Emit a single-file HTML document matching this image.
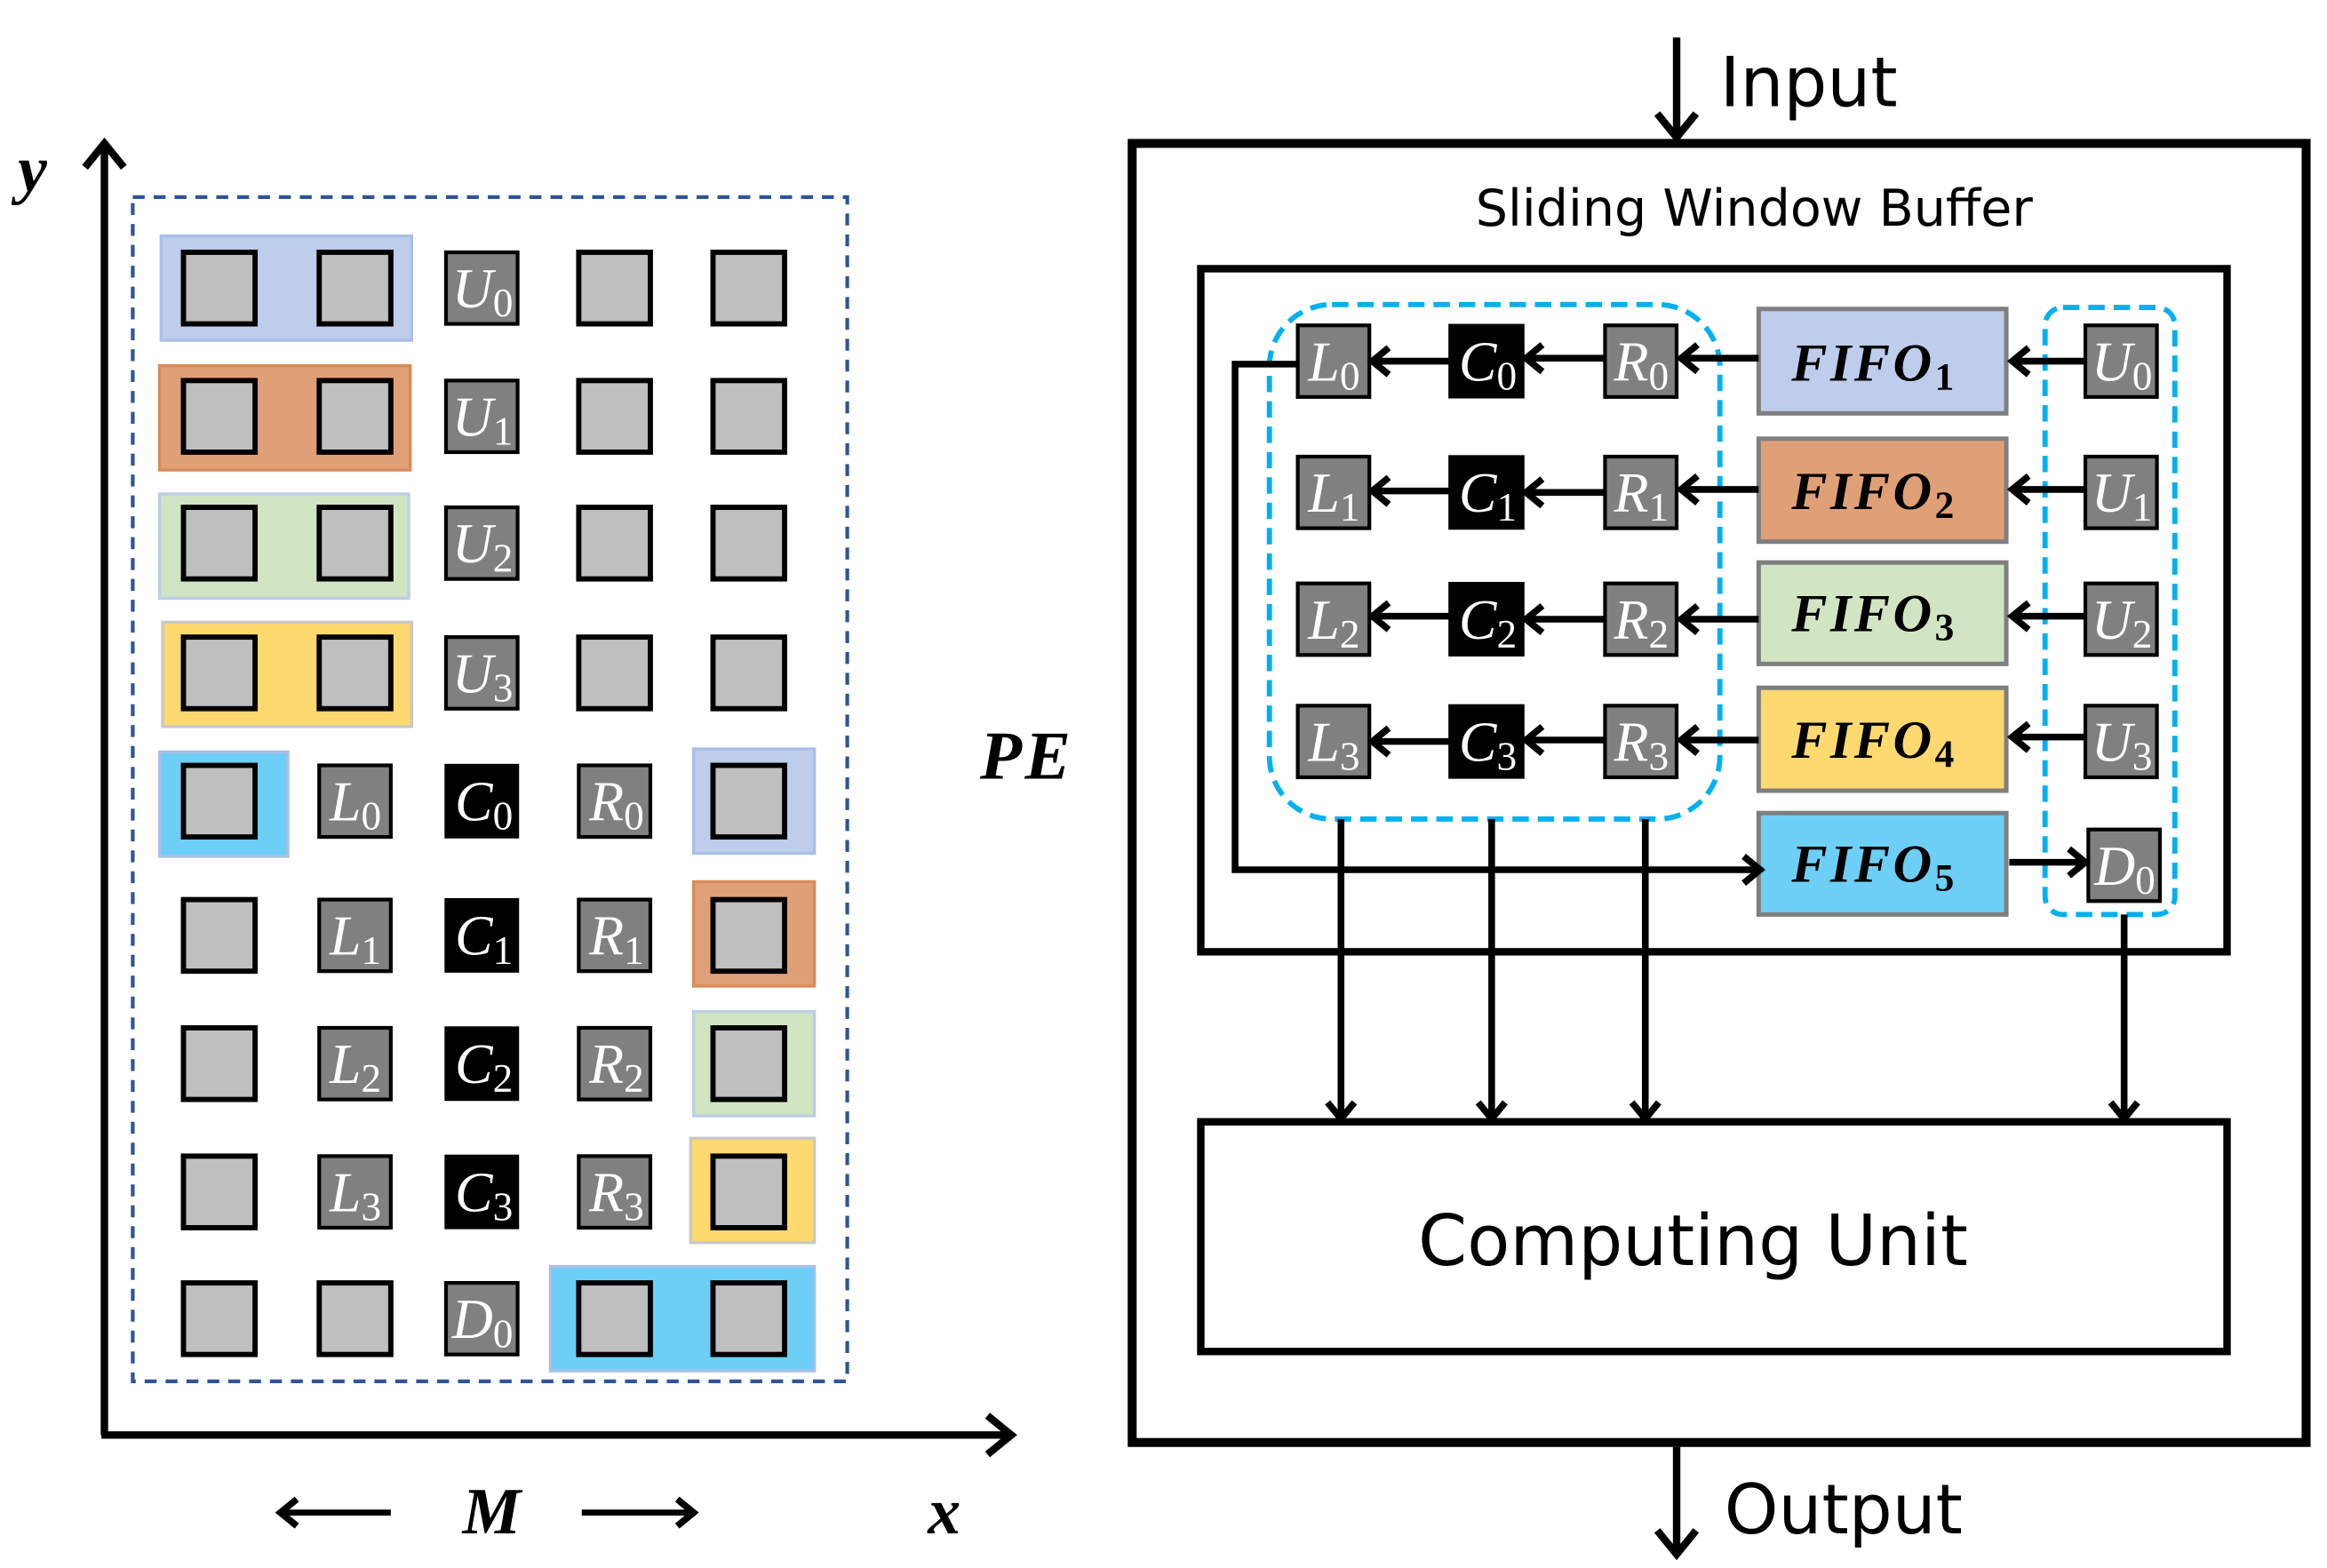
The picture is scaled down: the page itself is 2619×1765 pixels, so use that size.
<!DOCTYPE html>
<html><head><meta charset="utf-8"><style>
html,body{margin:0;padding:0;background:#fff}
svg{display:block}
.m{font-family:"Liberation Serif",serif;font-style:italic;font-size:38px;fill:#fff}
.s{font-style:normal;font-size:27px}
.sans{font-family:"DejaVu Sans","Liberation Sans",sans-serif;fill:#000}
.f{font-family:"Liberation Serif",serif;font-style:italic;font-weight:bold;font-size:36px;fill:#000;letter-spacing:2px}
.fs{font-style:normal;font-weight:bold;font-size:26px}
.g{fill:#bfbfbf;stroke:#000;stroke-width:3.5}
.d{fill:#808080;stroke:#000;stroke-width:2.5}
.b{fill:#000;stroke:#000;stroke-width:2}
</style></head><body>
<svg width="2619" height="1765" viewBox="0 0 1560 1051" xmlns="http://www.w3.org/2000/svg">
<defs>
<marker id="ah" markerUnits="userSpaceOnUse" markerWidth="24" markerHeight="24" refX="18" refY="12" orient="auto">
<path d="M7,3 L18,12 L7,21" fill="none" stroke="#000" stroke-width="4.5"/>
</marker>
<marker id="ahb" markerUnits="userSpaceOnUse" markerWidth="34" markerHeight="34" refX="26" refY="17" orient="auto">
<path d="M10,4 L26,17 L10,30" fill="none" stroke="#000" stroke-width="5"/>
</marker>
</defs>

<!-- LEFT -->
<line x1="70" y1="962" x2="70" y2="96" stroke="#000" stroke-width="5" marker-end="url(#ahb)"/>
<line x1="68" y1="962" x2="678" y2="962" stroke="#000" stroke-width="5" marker-end="url(#ahb)"/>
<text x="12" y="128" class="f" style="font-size:44px">y</text>
<rect x="89" y="132" width="479" height="794" fill="none" stroke="#2f5597" stroke-width="2.5" stroke-dasharray="8,6"/>

<rect x="108" y="158" width="168" height="70" fill="#bdcdeb" stroke="#aabfe6" stroke-width="2"/>
<rect x="107" y="245" width="168" height="70" fill="#e0a077" stroke="#d98a58" stroke-width="2"/>
<rect x="107" y="331" width="167" height="70" fill="#d2e5c3" stroke="#bccde6" stroke-width="2"/>
<rect x="109" y="417" width="167" height="70" fill="#fed96f" stroke="#c8c8c8" stroke-width="2"/>
<rect x="107" y="504" width="86" height="70" fill="#6dcff6" stroke="#aabfe6" stroke-width="2"/>
<rect x="465" y="502" width="81" height="70" fill="#bdcdeb" stroke="#aabfe6" stroke-width="2"/>
<rect x="465" y="591" width="81" height="70" fill="#e0a077" stroke="#d98a58" stroke-width="2"/>
<rect x="465" y="678" width="81" height="70" fill="#d2e5c3" stroke="#bccde6" stroke-width="2"/>
<rect x="463" y="763" width="83" height="70" fill="#fed96f" stroke="#c8c8c8" stroke-width="2"/>
<rect x="369" y="849" width="177" height="70" fill="#6dcff6" stroke="#aabfe6" stroke-width="2"/>

<rect class="g" x="123" y="169" width="48" height="48"/><rect class="g" x="214" y="169" width="48" height="48"/><rect class="d" x="299" y="169" width="48" height="48"/><rect class="g" x="388" y="169" width="48" height="48"/><rect class="g" x="478" y="169" width="48" height="48"/>
<rect class="g" x="123" y="255" width="48" height="48"/><rect class="g" x="214" y="255" width="48" height="48"/><rect class="d" x="299" y="255" width="48" height="48"/><rect class="g" x="388" y="255" width="48" height="48"/><rect class="g" x="478" y="255" width="48" height="48"/>
<rect class="g" x="123" y="340" width="48" height="48"/><rect class="g" x="214" y="340" width="48" height="48"/><rect class="d" x="299" y="340" width="48" height="48"/><rect class="g" x="388" y="340" width="48" height="48"/><rect class="g" x="478" y="340" width="48" height="48"/>
<rect class="g" x="123" y="427" width="48" height="48"/><rect class="g" x="214" y="427" width="48" height="48"/><rect class="d" x="299" y="427" width="48" height="48"/><rect class="g" x="388" y="427" width="48" height="48"/><rect class="g" x="478" y="427" width="48" height="48"/>
<text class="m" x="303" y="206">U<tspan class="s" dy="6">0</tspan></text>
<text class="m" x="303" y="292">U<tspan class="s" dy="6">1</tspan></text>
<text class="m" x="303" y="377">U<tspan class="s" dy="6">2</tspan></text>
<text class="m" x="303" y="464">U<tspan class="s" dy="6">3</tspan></text>

<rect class="g" x="123" y="513" width="48" height="48"/><rect class="d" x="214" y="513" width="48" height="48"/><rect class="b" x="299" y="513" width="48" height="48"/><rect class="d" x="388" y="513" width="48" height="48"/><rect class="g" x="478" y="513" width="48" height="48"/>
<rect class="g" x="123" y="603" width="48" height="48"/><rect class="d" x="214" y="603" width="48" height="48"/><rect class="b" x="299" y="603" width="48" height="48"/><rect class="d" x="388" y="603" width="48" height="48"/><rect class="g" x="478" y="603" width="48" height="48"/>
<rect class="g" x="123" y="689" width="48" height="48"/><rect class="d" x="214" y="689" width="48" height="48"/><rect class="b" x="299" y="689" width="48" height="48"/><rect class="d" x="388" y="689" width="48" height="48"/><rect class="g" x="478" y="689" width="48" height="48"/>
<rect class="g" x="123" y="775" width="48" height="48"/><rect class="d" x="214" y="775" width="48" height="48"/><rect class="b" x="299" y="775" width="48" height="48"/><rect class="d" x="388" y="775" width="48" height="48"/><rect class="g" x="478" y="775" width="48" height="48"/>
<text class="m" x="221" y="550">L<tspan class="s" dy="6">0</tspan></text><text class="m" x="305" y="550">C<tspan class="s" dy="6">0</tspan></text><text class="m" x="395" y="550">R<tspan class="s" dy="6">0</tspan></text>
<text class="m" x="221" y="640">L<tspan class="s" dy="6">1</tspan></text><text class="m" x="305" y="640">C<tspan class="s" dy="6">1</tspan></text><text class="m" x="395" y="640">R<tspan class="s" dy="6">1</tspan></text>
<text class="m" x="221" y="726">L<tspan class="s" dy="6">2</tspan></text><text class="m" x="305" y="726">C<tspan class="s" dy="6">2</tspan></text><text class="m" x="395" y="726">R<tspan class="s" dy="6">2</tspan></text>
<text class="m" x="221" y="812">L<tspan class="s" dy="6">3</tspan></text><text class="m" x="305" y="812">C<tspan class="s" dy="6">3</tspan></text><text class="m" x="395" y="812">R<tspan class="s" dy="6">3</tspan></text>
<rect class="g" x="123" y="860" width="48" height="48"/><rect class="g" x="214" y="860" width="48" height="48"/><rect class="d" x="299" y="860" width="48" height="48"/><rect class="g" x="388" y="860" width="48" height="48"/><rect class="g" x="478" y="860" width="48" height="48"/>
<text class="m" x="303" y="897">D<tspan class="s" dy="6">0</tspan></text>

<line x1="262" y1="1014" x2="188" y2="1014" stroke="#000" stroke-width="4" marker-end="url(#ah)"/>
<line x1="390" y1="1014" x2="465" y2="1014" stroke="#000" stroke-width="4" marker-end="url(#ah)"/>
<text x="310" y="1028" class="f" style="font-size:44px">M</text>
<text x="622" y="1028" class="f" style="font-size:44px">x</text>

<!-- RIGHT -->
<text x="657" y="522" class="f" style="font-size:46px">PE</text>
<line x1="1124" y1="25" x2="1124" y2="92" stroke="#000" stroke-width="5" marker-end="url(#ahb)"/>
<text x="1153" y="71" class="sans" style="font-size:46px">Input</text>
<rect x="759" y="96" width="787" height="871" fill="none" stroke="#000" stroke-width="6"/>
<text x="1176" y="151" class="sans" text-anchor="middle" style="font-size:34px;font-weight:500">Sliding Window Buffer</text>
<rect x="805" y="180" width="688" height="458" fill="none" stroke="#000" stroke-width="5"/>

<rect x="1179" y="207" width="166" height="70" fill="#bdcdeb" stroke="#7f7f7f" stroke-width="3"/>
<rect x="1179" y="294" width="166" height="69" fill="#e0a077" stroke="#7f7f7f" stroke-width="3"/>
<rect x="1179" y="377" width="166" height="68" fill="#d2e5c3" stroke="#7f7f7f" stroke-width="3"/>
<rect x="1179" y="461" width="166" height="69" fill="#fed96f" stroke="#7f7f7f" stroke-width="3"/>
<rect x="1179" y="545" width="166" height="68" fill="#6dcff6" stroke="#7f7f7f" stroke-width="3"/>
<text class="f" x="1201" y="255">FIFO<tspan class="fs" dy="6">1</tspan></text>
<text class="f" x="1201" y="341">FIFO<tspan class="fs" dy="6">2</tspan></text>
<text class="f" x="1201" y="423">FIFO<tspan class="fs" dy="6">3</tspan></text>
<text class="f" x="1201" y="508">FIFO<tspan class="fs" dy="6">4</tspan></text>
<text class="f" x="1201" y="591">FIFO<tspan class="fs" dy="6">5</tspan></text>

<rect x="851" y="204" width="302" height="345" rx="42" fill="none" stroke="#00b0f0" stroke-width="3.5" stroke-dasharray="11,6"/>
<rect x="1371" y="206" width="87" height="407" rx="12" fill="none" stroke="#00b0f0" stroke-width="3.5" stroke-dasharray="11,6"/>

<rect class="d" x="870" y="218" width="48" height="48"/><rect class="b" x="972" y="218" width="49" height="48"/><rect class="d" x="1076" y="218" width="48" height="48"/>
<rect class="d" x="870" y="306" width="48" height="48"/><rect class="b" x="972" y="306" width="49" height="48"/><rect class="d" x="1076" y="306" width="48" height="48"/>
<rect class="d" x="870" y="391" width="48" height="48"/><rect class="b" x="972" y="391" width="49" height="48"/><rect class="d" x="1076" y="391" width="48" height="48"/>
<rect class="d" x="870" y="473" width="48" height="48"/><rect class="b" x="972" y="473" width="49" height="48"/><rect class="d" x="1076" y="473" width="48" height="48"/>
<text class="m" x="877" y="255">L<tspan class="s" dy="6">0</tspan></text><text class="m" x="978" y="255">C<tspan class="s" dy="6">0</tspan></text><text class="m" x="1082" y="255">R<tspan class="s" dy="6">0</tspan></text>
<text class="m" x="877" y="343">L<tspan class="s" dy="6">1</tspan></text><text class="m" x="978" y="343">C<tspan class="s" dy="6">1</tspan></text><text class="m" x="1082" y="343">R<tspan class="s" dy="6">1</tspan></text>
<text class="m" x="877" y="428">L<tspan class="s" dy="6">2</tspan></text><text class="m" x="978" y="428">C<tspan class="s" dy="6">2</tspan></text><text class="m" x="1082" y="428">R<tspan class="s" dy="6">2</tspan></text>
<text class="m" x="877" y="510">L<tspan class="s" dy="6">3</tspan></text><text class="m" x="978" y="510">C<tspan class="s" dy="6">3</tspan></text><text class="m" x="1082" y="510">R<tspan class="s" dy="6">3</tspan></text>

<rect class="d" x="1398" y="218" width="48" height="48"/>
<rect class="d" x="1398" y="306" width="48" height="48"/>
<rect class="d" x="1398" y="391" width="48" height="48"/>
<rect class="d" x="1398" y="473" width="48" height="48"/>
<rect class="d" x="1400" y="556" width="48" height="48"/>
<text class="m" x="1402" y="255">U<tspan class="s" dy="6">0</tspan></text>
<text class="m" x="1402" y="343">U<tspan class="s" dy="6">1</tspan></text>
<text class="m" x="1402" y="428">U<tspan class="s" dy="6">2</tspan></text>
<text class="m" x="1402" y="510">U<tspan class="s" dy="6">3</tspan></text>
<text class="m" x="1404" y="593">D<tspan class="s" dy="6">0</tspan></text>

<g stroke="#000" stroke-width="4.5" marker-end="url(#ah)">
<line x1="1398" y1="242" x2="1349" y2="242"/><line x1="1179" y1="240" x2="1127" y2="240"/><line x1="1076" y1="240" x2="1023" y2="240"/><line x1="972" y1="242" x2="920" y2="242"/>
<line x1="1398" y1="328" x2="1349" y2="328"/><line x1="1179" y1="328" x2="1127" y2="328"/><line x1="1076" y1="330" x2="1023" y2="330"/><line x1="972" y1="329" x2="920" y2="329"/>
<line x1="1398" y1="413" x2="1349" y2="413"/><line x1="1179" y1="415" x2="1127" y2="415"/><line x1="1076" y1="415" x2="1023" y2="415"/><line x1="972" y1="413" x2="920" y2="413"/>
<line x1="1398" y1="494" x2="1349" y2="494"/><line x1="1179" y1="496" x2="1127" y2="496"/><line x1="1076" y1="496" x2="1023" y2="496"/><line x1="972" y1="497" x2="920" y2="497"/>
<line x1="1347" y1="578" x2="1398" y2="578"/>
<polyline points="870,244 828,244 828,583 1180,583" fill="none"/>
<line x1="899" y1="549" x2="899" y2="750"/>
<line x1="1000" y1="549" x2="1000" y2="750"/>
<line x1="1103" y1="549" x2="1103" y2="750"/>
<line x1="1424" y1="613" x2="1424" y2="750"/>
</g>

<rect x="805" y="752" width="688" height="154" fill="none" stroke="#000" stroke-width="5"/>
<text x="1135" y="848" class="sans" text-anchor="middle" style="font-size:47px">Computing Unit</text>

<line x1="1124" y1="970" x2="1124" y2="1042" stroke="#000" stroke-width="5" marker-end="url(#ahb)"/>
<text x="1156" y="1028" class="sans" style="font-size:46px">Output</text>
</svg>
</body></html>
